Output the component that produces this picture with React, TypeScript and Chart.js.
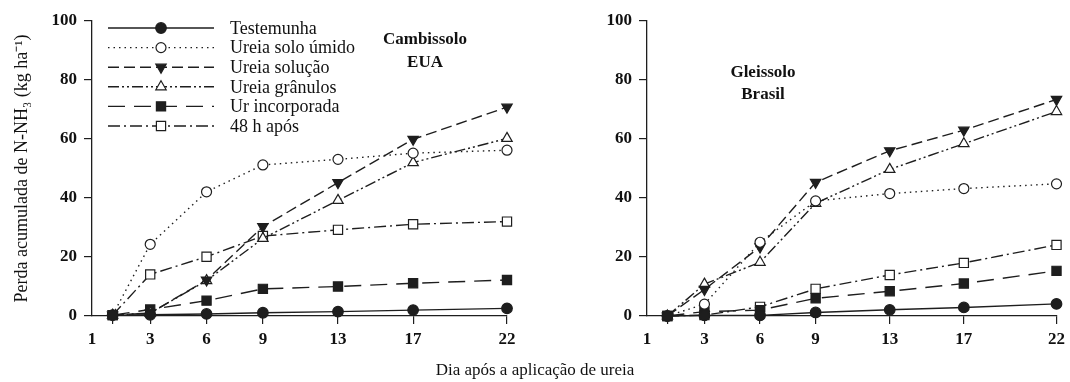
import React, { useEffect, useRef } from 'react';
import { Chart, registerables } from 'chart.js';
import { drawPoint } from 'chart.js/helpers';

Chart.register(...registerables);

// ---------- data ----------
const days = [1, 3, 6, 9, 13, 17, 22];
const xTickValues = [-0.1, 1, 3, 6, 9, 13, 17, 22];
const xTickLabels = ['1', '', '3', '6', '9', '13', '17', '22'];

const seriesNames = [
  'Testemunha',
  'Ureia solo úmido',
  'Ureia solução',
  'Ureia grânulos',
  'Ur incorporada',
  '48 h após',
];

// Cambissolo EUA
const cambTestemunha = [0.3, 0.4, 0.7, 1.1, 1.5, 2.0, 2.6];
const cambSoloUmido = [0.3, 24.3, 42.1, 51.2, 53.1, 55.2, 56.2];
const cambSolucao = [0.3, 1.0, 12.2, 30.3, 45.2, 59.9, 70.8];
const cambGranulos = [0.3, 1.0, 12.0, 26.3, 39.2, 52.0, 60.2];
const cambIncorporada = [0.3, 2.2, 5.2, 9.2, 10.0, 11.1, 12.2];
const camb48h = [0.3, 14.1, 20.1, 27.1, 29.2, 31.1, 32.0];

// Gleissolo Brasil
const gleiTestemunha = [0.0, 0.2, 0.2, 1.2, 2.1, 2.9, 4.1];
const gleiSoloUmido = [0.0, 4.0, 25.0, 39.0, 41.5, 43.2, 44.8];
const gleiSolucao = [0.0, 9.0, 23.4, 45.3, 56.0, 63.0, 73.4];
const gleiGranulos = [0.0, 10.8, 18.2, 38.2, 49.7, 58.4, 69.3];
const gleiIncorporada = [0.0, 1.5, 2.0, 6.0, 8.4, 11.0, 15.3];
const glei48h = [0.0, 0.3, 3.1, 9.2, 13.9, 18.0, 24.1];

const yTitle = 'Perda acumulada de N-NH₃ (kg ha⁻¹)';
const xTitle = 'Dia após a aplicação de ureia';

// ---------- styles ----------
const INK = '#1e1e1e';
const FONT = '"Liberation Serif", "Times New Roman", serif';

const styles = [
  { dash: [], pointStyle: 'circle', fill: INK, radius: 5.3, rotation: 0 },
  { dash: [1.5, 4], pointStyle: 'circle', fill: '#fff', radius: 5, rotation: 0 },
  { dash: [11, 5], pointStyle: 'triangle', fill: INK, radius: 6, rotation: 180 },
  { dash: [11, 3, 2, 3, 2, 3], pointStyle: 'triangle', fill: '#fff', radius: 6, rotation: 0 },
  { dash: [17, 9], pointStyle: 'rect', fill: INK, radius: 6.5, rotation: 0 },
  { dash: [12, 4, 2, 4], pointStyle: 'rect', fill: '#fff', radius: 6.5, rotation: 0 },
];

function makeDatasets(values: number[][]) {
  return values.map((vals, i) => {
    const s = styles[i];
    return {
      label: seriesNames[i],
      data: vals.map((v, j) => ({ x: days[j], y: v })),
      borderColor: INK,
      borderWidth: 1.4,
      borderDash: s.dash,
      pointStyle: s.pointStyle,
      pointRadius: s.radius,
      pointRotation: s.rotation,
      pointBackgroundColor: s.fill,
      pointBorderColor: INK,
      pointBorderWidth: 1.2,
      tension: 0,
      fill: false,
      clip: false as any,
    };
  });
}

const legendPlugin = {
  id: 'lineLegend',
  afterDatasetsDraw(chart: any, _args: any, opts: any) {
    if (!opts || !opts.show) return;
    const ctx = chart.ctx;
    ctx.save();
    chart.data.datasets.forEach((ds: any, i: number) => {
      const s = styles[i];
      const y = opts.y0 + i * opts.dy;
      ctx.strokeStyle = INK;
      ctx.lineWidth = 1.4;
      ctx.setLineDash(s.dash);
      ctx.beginPath();
      ctx.moveTo(opts.x0, y);
      ctx.lineTo(opts.x1, y);
      ctx.stroke();
      ctx.setLineDash([]);
      ctx.fillStyle = s.fill;
      ctx.strokeStyle = INK;
      ctx.lineWidth = 1.2;
      drawPoint(ctx, { pointStyle: s.pointStyle, radius: s.radius, rotation: s.rotation, borderWidth: 1.2 } as any, (opts.x0 + opts.x1) / 2, y);
      ctx.fillStyle = '#111';
      ctx.font = `18px ${FONT}`;
      ctx.textAlign = 'left';
      ctx.textBaseline = 'middle';
      ctx.fillText(ds.label, opts.textX, y + 1);
    });
    ctx.restore();
  },
};

const notePlugin = {
  id: 'panelNote',
  afterDraw(chart: any, _args: any, opts: any) {
    if (!opts || !opts.lines) return;
    const ctx = chart.ctx;
    ctx.save();
    ctx.fillStyle = '#111';
    ctx.font = `bold 17px ${FONT}`;
    ctx.textAlign = 'center';
    ctx.textBaseline = 'middle';
    opts.lines.forEach((t: string, i: number) => {
      ctx.fillText(t, opts.x, opts.y + i * opts.dy);
    });
    ctx.restore();
  },
};

function buildConfig(values: number[][], side: 'left' | 'right'): any {
  const isLeft = side === 'left';
  return {
    type: 'line',
    data: { datasets: makeDatasets(values) },
    plugins: [legendPlugin, notePlugin],
    options: {
      animation: false,
      responsive: false,
      events: [],
      layout: { padding: { top: 21, right: isLeft ? 28 : 9, left: 0, bottom: 0 } },
      plugins: {
        legend: { display: false },
        tooltip: { enabled: false },
        lineLegend: isLeft ? { show: true, x0: 108, x1: 214, y0: 28, dy: 19.6, textX: 230 } : { show: false },
        panelNote: isLeft
          ? { lines: ['Cambissolo', 'EUA'], x: 425, y: 40, dy: 23 }
          : { lines: ['Gleissolo', 'Brasil'], x: 228, y: 73, dy: 22 },
      },
      scales: {
        x: {
          type: 'linear',
          min: -0.1,
          max: 22,
          afterBuildTicks: (scale: any) => {
            scale.ticks = xTickValues.map((v) => ({ value: v }));
          },
          afterFit: (scale: any) => {
            scale.height = 66;
          },
          ticks: {
            autoSkip: false,
            maxRotation: 0,
            padding: 5,
            color: '#111',
            font: { family: FONT, size: 17, weight: 'bold' },
            callback: (_v: any, idx: number) => xTickLabels[idx],
          },
          grid: {
            display: true,
            drawOnChartArea: false,
            drawTicks: true,
            tickLength: 8,
            lineWidth: 1.2,
            color: (ctx: any) => (ctx.index === 0 ? 'rgba(0,0,0,0)' : INK),
          },
          border: { display: true, color: INK, width: 1.3 },
        },
        y: {
          type: 'linear',
          min: 0,
          max: 100,
          afterFit: (scale: any) => {
            scale.width = isLeft ? 92 : 112;
          },
          ticks: {
            stepSize: 20,
            padding: 7,
            color: '#111',
            font: { family: FONT, size: 17, weight: 'bold' },
          },
          grid: {
            display: true,
            drawOnChartArea: false,
            drawTicks: true,
            tickLength: 8,
            lineWidth: 1.2,
            color: INK,
          },
          border: { display: true, color: INK, width: 1.3 },
          title: isLeft
            ? {
                display: true,
                text: yTitle,
                color: '#111',
                font: { family: FONT, size: 18 },
                padding: { top: 11, bottom: 0 },
              }
            : { display: false },
        },
      },
    },
  };
}

function Panel({ values, side }: { values: number[][]; side: 'left' | 'right' }) {
  const ref = useRef<HTMLCanvasElement | null>(null);
  useEffect(() => {
    if (!ref.current) return;
    const chart = new Chart(ref.current, buildConfig(values, side));
    return () => chart.destroy();
  }, [values, side]);
  return <canvas ref={ref} width={535} height={382} style={{ display: 'block', width: 535, height: 382 }} />;
}

const cambValues = [cambTestemunha, cambSoloUmido, cambSolucao, cambGranulos, cambIncorporada, camb48h];
const gleiValues = [gleiTestemunha, gleiSoloUmido, gleiSolucao, gleiGranulos, gleiIncorporada, glei48h];

export default function App() {
  return (
    <div style={{ position: 'fixed', left: 0, top: 0, width: 1070, height: 382, background: '#fff', overflow: 'hidden' }}>
      <div style={{ position: 'absolute', left: 0, top: 0 }}>
        <Panel values={cambValues} side="left" />
      </div>
      <div style={{ position: 'absolute', left: 535, top: 0 }}>
        <Panel values={gleiValues} side="right" />
      </div>
      <div
        style={{
          position: 'absolute',
          left: 0,
          width: 1070,
          top: 360,
          textAlign: 'center',
          fontFamily: FONT,
          fontSize: 17,
          lineHeight: '20px',
          color: '#111',
        }}
      >
        {xTitle}
      </div>
    </div>
  );
}
